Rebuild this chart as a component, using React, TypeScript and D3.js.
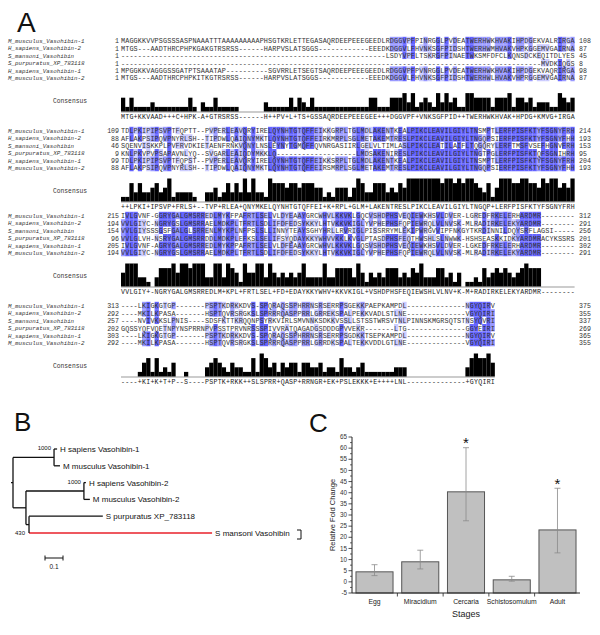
import React from 'react';
import * as d3 from 'd3';

// ---------------- Panel A data: alignment ----------------
const seqNames = [
  'M_musculus_Vasohibin-1',
  'H_sapiens_Vasohibin-2',
  'S_mansoni_Vasohibin',
  'S_purpuratus_XP_783118',
  'H_sapiens_Vasohibin-1',
  'M_musculus_Vasohibin-2',
];

const block1 = [
  'MAGGKKVVPS' + 'GSSSASPNAA' + 'ATTTAAAAAA' + 'AAAPHSGTKR' + 'LETTEGASAQ' + 'RDEEPEEEGE' + 'EDLRDGGVPF' + 'PINRGGLPVD' + 'EATWERHWKH' + 'VAKIHPDGEK' + 'VALRIRGA',
  'MTGS---AAD' + 'THRCPHPKGA' + 'KGTRSRSS--' + '----HARPVS' + 'LATSGGS---' + '---------E' + 'EEDKDGGVLF' + 'HVNKSGFPID' + 'SHTWERHWMH' + 'VAKVHPKGGE' + 'MVGAIRNA',
  '----------' + '----------' + '----------' + '----------' + '----------' + '----------' + '---LSDYVPF' + 'LTSKRGFPIN' + 'AETWKSMFDF' + 'CLKQNSDCKE' + 'QITDLYES',
  '----------' + '----------' + '----------' + '----------' + '----------' + '----------' + '----------' + '----------' + '----------' + '----------' + 'MVDKIQGS',
  'MPGGKKVAGG' + 'GSSGATPTSA' + 'AATAP-----' + '-----SGVRR' + 'LETSEGTSAQ' + 'RDEEPEEEGE' + 'EDLRDGGVPF' + 'PVNRGGLPVD' + 'EATWERHWKH' + 'VAKIHPDGEK' + 'VAQRIRGA',
  'MTGS---AAD' + 'THRCPHPKIT' + 'KGTRSRSS--' + '----HARPVS' + 'LATSGGS---' + '---------E' + 'EEDKDGGVLF' + 'HVNKSGFPID' + 'SHTWERHWLH' + 'VAKVHPRGGE' + 'MVGAIRNA',
];
const block2 = [
  'TDLPKIPIPS' + 'VPTFQPTT--' + 'PVPERLEAVQ' + 'RYIRELQYNH' + 'TGTQFFEIKK' + 'GRPLTGLMDL' + 'AKENTKEALP' + 'IKCLEAVILG' + 'IYLTNSMPTL' + 'ERFPISFKTY' + 'FSGNYFRH',
  'AFLAKPSIPQ' + 'VPNYRLSH--' + 'TIPDWLQAIQ' + 'NYMKTLQYNH' + 'TGTQFFEIRK' + 'MRPLSGLMET' + 'AKEMTRESLP' + 'IKCLEAVILG' + 'IYLTNGQPSI' + 'ERFPISFKTY' + 'FSGNYFHH',
  'SQENVISKKP' + 'LPVFRVDKIE' + 'TAENFRNKVQ' + 'NYLNSLEYNY' + 'TGMQFFQVNR' + 'GASIIRLGEL' + 'VLTIMLASLP' + 'IKCLEATILA' + 'IFLTQGQRYL' + 'ERFTMSFVSE' + 'FHGNVFRH',
  'KNLPKVPVPS' + 'APAVNLYQ--' + 'SVGARLEAIQ' + 'DYMKKLQ---' + '----------' + '------LMDS' + 'AKENIRESLP' + 'IKCLEAVILG' + 'IYLTNGTPGL' + 'ERFPISFKTQ' + 'FSGNIHRH',
  'TDLPKIPIPS' + 'VPTFQPST--' + 'PVPERLEAVQ' + 'RYIRELQYNH' + 'TGTQFFEIKK' + 'SRPLTGLMDL' + 'AKENTKEALP' + 'IKCLEAVILG' + 'IYLTNSMPTL' + 'ERFPISFKTY' + 'FSGNYFRH',
  'AFLAKPSIPQ' + 'VPNYRLSH--' + 'TIPDWLQAIQ' + 'NYMKTLQYNH' + 'TGTQFFEIRS' + 'MRPLSGLMET' + 'AKEMTRESLP' + 'IKCLEAVILG' + 'IYLTNGQPSI' + 'ERFPISFKTY' + 'FSGNYFHH',
];
const block3 = [
  'IVLGVNF-GG' + 'RYGALGMSRR' + 'EDLMYKFPAF' + 'RTLSELVLDY' + 'EAAYGRCWHV' + 'LKKVKLGQCV' + 'SHDPHSVEQI' + 'EWKHSVLDVE' + 'R-LGREDFRK' + 'ELERHARDMR' + '--------',
  'VVLGIYC-NG' + 'RYGSLGMSRR' + 'AELMDKPLTF' + 'RTLSDLIFDF' + 'EDSYKKYLHT' + 'VKKVKIGLYV' + 'PHEPHSFQPI' + 'EWRQLVLNVS' + 'K-MLRADIRK' + 'ELEKYARDMR' + '--------',
  'VVLGIYSSSG' + 'SFGALGLSRR' + 'ENLMYKPLNF' + 'PSLSLLINNY' + 'TEAYSGHYHR' + 'LLRVRIGLPI' + 'SSRRYMLEKI' + 'PWRGVVIPFN' + 'KGYTKRDINN' + 'ILDQYSRFLA' + 'GSI-----',
  'VVLGLVH-NS' + 'RYGALGMSRR' + 'DDLMDKPLEF' + 'KSLSELIFSY' + 'QDAYKKYWHV' + 'VKKLKVGLPT' + 'ASDPHSFEQT' + 'HWSHLSLNWW' + 'K-HSHSEASK' + 'KIDKYARDMR' + 'ACYKSSRS',
  'IVLGVNF-AG' + 'RYGALGMSRR' + 'EDLMYKPPAF' + 'RTLSELVLDF' + 'EAAYGRCWHV' + 'LKKVKLGQSV' + 'SHDPHSVEQI' + 'EWKHSVLDVE' + 'R-LGKEDFRK' + 'ELERHARDMR' + '--------',
  'VVLGIYC-NG' + 'RYGSLGMSRR' + 'AELMDKPLTF' + 'RTLSDLIFDF' + 'EDSYKKYLHT' + 'VKKVKIGLYV' + 'PHEPHSFQPI' + 'EWRQLVLNVS' + 'K-MLRADIRK' + 'ELEKYARDMR' + '--------',
];
const block4 = [
  '----LKIGKG' + 'TGP-------' + 'PSPTKDRKKD' + 'VS-SPQRAQS' + 'SPHRRNSRSE' + 'RRPSGEKKPA' + 'EPKAMPDL--' + '----------' + '--NGYQIRV',
  '----MKILKP' + 'ASA-------' + 'HSPTQVRSRG' + 'KSLSPRRRQA' + 'SPPRRLGRRE' + 'KSPALPEKKV' + 'ADLSTLNE--' + '----------' + '--VGYQIRI',
  '----NVIVKK' + 'SLPNIS----' + 'SDSFKTTKRQ' + 'QNPSYRKVIR' + 'LSMVNNKSDK' + 'KVSSLLSTSS' + 'TWRSVTNLPI' + 'NNSKMGRSQT' + 'STNSYQVRI',
  'GQSSYQFVQE' + 'TNPYNSPRRN' + 'PVPSSTPRVN' + 'RSSSPIVVRA' + 'TQAGADGSDD' + 'DGPVVEKR--' + '-----LTG--' + '----------' + '--GGYEIRI',
  '----LKIGKG' + 'TGP-------' + 'PSPTKDRKKD' + 'VS-SPQRAQS' + 'SPHRRNSRSE' + 'RRPSGDKKTS' + 'EPKAMPDL--' + '----------' + '--NGYQIRV',
  '----MKILKP' + 'ASA-------' + 'HSPTQVRSRG' + 'KSLSPRRRQA' + 'SPPRRLGRRD' + 'KSPALTEKKV' + 'DDLGTLNE--' + '----------' + '--VGYQIRI',
];
const blockStartNumbers = [
  [1, 1, 1, 1, 1, 1],
  [109, 88, 46, 9, 99, 88],
  [215, 194, 154, 96, 205, 194],
  [313, 292, 257, 202, 303, 292],
];
const consensusLines = [
  'MTG+KKVAAD' + '+++C+HPK-A' + '+GTRSRSS--' + '----H++PV+' + 'L+TS+GSSAQ' + 'RDEEPEEEGE' + 'E+++DGGVPF' + '+VNKSGFPID' + '++TWERHWKH' + 'VAK+HPDG+K' + 'MVG+IRGA',
  '++LPKI+IPS' + 'VP+FRLS+--' + 'TVP+RLEA+Q' + 'NYMKELQYNH' + 'TGTQFFEI+K' + '+RPL+GLM+L' + 'AKENTRESLP' + 'IKCLEAVILG' + 'IYLTNGQP+L' + 'ERFPISFKTY' + 'FSGNYFRH',
  'VVLGIY+-NG' + 'RYGALGMSRR' + 'EDLM+KPL+F' + 'RTLSEL+FD+' + 'EDAYKKYWHV' + '+KKVKIGL+V' + 'SHDPHSFEQI' + 'EWSHLVLNV+' + 'K-M+RADIRK' + 'ELEKYARDMR' + '--------',
  '----+KI+K+' + 'T+P--S----' + 'PSPTK+RKK+' + '+SLSPRR+QA' + 'SP+RRNGR+E' + 'K+PSLEKKK+' + 'E++++LNL--' + '----------' + '--+GYQIRI',
];

// ---------------- Panel B data: tree ----------------
type TNode = { name?: string; len: number; boot?: string; red?: boolean; children?: TNode[] };
const treeData: TNode = {
  len: 0,
  children: [
    {
      len: 0.228, boot: '1000',
      children: [
        { name: 'H sapiens Vasohibin-1', len: 0.017 },
        { name: 'M musculus Vasohibin-1', len: 0.033 },
      ],
    },
    {
      len: 0.072,
      children: [
        {
          len: 0.322, boot: '1000',
          children: [
            { name: 'H sapiens Vasohibin-2', len: 0.011 },
            { name: 'M musculus Vasohibin-2', len: 0.033 },
          ],
        },
        {
          len: 0.017, boot: '430',
          children: [
            { name: 'S purpuratus XP_783118', len: 0.41 },
            { name: 'S mansoni Vasohibin', len: 1.017, red: true },
          ],
        },
      ],
    },
  ],
};
const scaleBarValue = 0.1;

// ---------------- Panel C data: bar chart ----------------
const stages = ['Egg', 'Miracidium', 'Cercaria', 'Schistosomulum', 'Adult'];
const foldChange = [4.5, 9.0, 40.4, 0.9, 23.3];
const errHigh = [7.7, 14.2, 60.2, 2.5, 42.0];
const errLow = [2.8, 5.8, 27.4, 0.3, 13.0];
const significant = [false, false, true, false, true];
const yTicks = [-5, 0, 5, 10, 15, 20, 25, 30, 35, 40, 45, 50, 55, 60, 65];

// ---------------- layout ----------------
const CW = 4.2;
const SEQ_X = 121;
const ROW_H = 7.4;
const BLOCK_TOP = [41, 131, 216, 306];
const MONO = "'Liberation Mono', 'DejaVu Sans Mono', monospace";
const SANS = "'Liberation Sans', Arial, sans-serif";

function colorFor(frac: number) {
  if (frac > 0.8) return '#6464ff';
  if (frac > 0.6) return '#9999ff';
  if (frac > 0.4) return '#ccccff';
  return null;
}

function AlignmentBlock({ rows, bi }: { rows: string[]; bi: number }) {
  const ncol = rows[0].length;
  const top = BLOCK_TOP[bi];
  const x = d3.scaleLinear().domain([0, ncol]).range([SEQ_X, SEQ_X + ncol * CW]);
  const yRow = (i: number) => top + i * ROW_H;
  const cols = d3.range(ncol).map((c) => {
    const res = rows.map((r) => r[c]);
    const counts = d3.rollup(res.filter((r) => r !== '-'), (v) => v.length, (d) => d);
    const nonGap = res.filter((r) => r !== '-').length;
    const maxCount = counts.size ? d3.max(Array.from(counts.values()))! : 0;
    return { counts, nonGap, maxCount };
  });
  const histBase = top + 70.5;
  const histH = 23;
  const hScale = d3.scaleLinear().domain([1, 6]).range([0, histH]).clamp(true);
  const cells: JSX.Element[] = [];
  rows.forEach((r, i) => {
    for (let c = 0; c < ncol; c++) {
      const ch = r[c];
      if (ch === '-') continue;
      const info = cols[c];
      if (info.nonGap < 5) continue;
      if (info.counts.get(ch) !== info.maxCount) continue;
      const col = colorFor(info.maxCount / 6);
      if (!col) continue;
      cells.push(
        <rect key={`c${i}-${c}`} x={x(c)} y={yRow(i) - ROW_H / 2 - 0.5} width={CW + 0.05} height={ROW_H + 0.05} fill={col} />
      );
    }
  });
  const ends = rows.map((r, i) => blockStartNumbers[bi][i] + r.replace(/-/g, '').length - 1);
  return (
    <g>
      {cells}
      {rows.map((r, i) => (
        <g key={i}>
          <text x={8} y={yRow(i) + 2} fontFamily={MONO} fontStyle="italic" fontSize={5.8} fill="#333">
            {seqNames[i]}
          </text>
          <text x={119} y={yRow(i) + 2.3} fontFamily={MONO} fontSize={6.6} fill="#333" textAnchor="end">
            {blockStartNumbers[bi][i]}
          </text>
          <text x={SEQ_X} y={yRow(i) + 2.3} fontFamily={MONO} fontSize={6.8} fill="#333" textLength={ncol * CW} lengthAdjust="spacing">
            {r}
          </text>
          <text x={579} y={yRow(i) + 2.3} fontFamily={MONO} fontSize={6.6} fill="#333">
            {ends[i]}
          </text>
        </g>
      ))}
      <text x={53} y={histBase - 9} fontFamily={MONO} fontSize={6.3} fill="#333">Consensus</text>
      <line x1={x(0)} x2={x(ncol)} y1={histBase + 0.5} y2={histBase + 0.5} stroke="#999" strokeWidth={1} />
      {cols.map((info, c) => {
        const h = hScale(Math.max(1, info.maxCount));
        if (h <= 0) return null;
        return <rect key={`h${c}`} x={x(c)} y={histBase - h} width={CW + 0.05} height={h} fill="#000" />;
      })}
      <text x={SEQ_X} y={histBase + 7} fontFamily={MONO} fontSize={6.6} fill="#222" textLength={ncol * CW} lengthAdjust="spacing">
        {consensusLines[bi]}
      </text>
    </g>
  );
}

function Tree() {
  const ox = 13;
  const px = d3.scaleLinear().domain([0, 1]).range([0, 180]);
  const leafY = d3.scaleLinear().domain([0, 5]).range([449, 533]);
  let leafIdx = 0;
  const lines: JSX.Element[] = [];
  const texts: JSX.Element[] = [];
  let k = 0;
  function layout(n: TNode, parentX: number): { x: number; y: number } {
    const nx = parentX + px(n.len);
    if (!n.children) {
      const y = leafY(leafIdx++);
      texts.push(
        <text key={`t${k++}`} x={nx + 3} y={y + 3} fontFamily={SANS} fontSize={8} fill="#111">{n.name}</text>
      );
      lines.push(<line key={`l${k++}`} x1={parentX} x2={nx} y1={y} y2={y} stroke={n.red ? '#e8212a' : '#111'} strokeWidth={1.3} />);
      return { x: nx, y };
    }
    const kids = n.children.map((c) => layout(c, nx));
    const y = (kids[0].y + kids[kids.length - 1].y) / 2;
    lines.push(<line key={`v${k++}`} x1={nx} x2={nx} y1={kids[0].y} y2={kids[kids.length - 1].y} stroke="#111" strokeWidth={1.3} />);
    if (n.len > 0) lines.push(<line key={`h${k++}`} x1={parentX} x2={nx} y1={y} y2={y} stroke="#111" strokeWidth={1.3} />);
    if (n.boot) {
      const by = n.boot === '430' ? kids[kids.length - 1].y + 2 : kids[0].y + 1;
      const bx = n.boot === '430' ? nx - 4 : nx - 3;
      texts.push(
        <text key={`b${k++}`} x={bx} y={by} fontFamily={SANS} fontSize={6} fill="#111" textAnchor="end">{n.boot}</text>
      );
    }
    return { x: nx, y };
  }
  const root = layout(treeData, ox);
  const sb0 = 45;
  const sb1 = sb0 + px(scaleBarValue);
  return (
    <g>
      {lines}
      <line x1={ox - 2} x2={ox} y1={root.y} y2={root.y} stroke="#111" strokeWidth={1.3} />
      {texts}
      <path d="M297,530 H301 V539 H297" fill="none" stroke="#111" strokeWidth={1} />
      <line x1={sb0} x2={sb1} y1={558} y2={558} stroke="#111" strokeWidth={1} />
      <line x1={sb0} x2={sb0} y1={555.5} y2={560.5} stroke="#111" strokeWidth={1} />
      <line x1={sb1} x2={sb1} y1={555.5} y2={560.5} stroke="#111" strokeWidth={1} />
      <text x={(sb0 + sb1) / 2} y={569} fontFamily={SANS} fontSize={6.5} textAnchor="middle" fill="#111">{scaleBarValue}</text>
    </g>
  );
}

function BarChart() {
  const y = d3.scaleLinear().domain([-5, 65]).range([593, 437]);
  const x = d3.scaleBand<string>().domain(stages).range([352, 580]).paddingInner(0.19).paddingOuter(0.087);
  const minorTicks = d3.range(-2.5, 65, 5);
  const boundaries = stages.slice(1).map((s) => x(s)! - (x.step() - x.bandwidth()) / 2);
  return (
    <g fontFamily={SANS}>
      {stages.map((s, i) => (
        <rect key={s} x={x(s)} y={y(foldChange[i])} width={x.bandwidth()} height={y(-5) - y(foldChange[i])} fill="#c0c0c0" stroke="#555" strokeWidth={1} />
      ))}
      {stages.map((s, i) => {
        const cx = x(s)! + x.bandwidth() / 2;
        return (
          <g key={`e${s}`} stroke="#8a8a8a" strokeWidth={0.8}>
            <line x1={cx} x2={cx} y1={y(errLow[i])} y2={y(errHigh[i])} />
            <line x1={cx - 3} x2={cx + 3} y1={y(errLow[i])} y2={y(errLow[i])} />
            <line x1={cx - 3} x2={cx + 3} y1={y(errHigh[i])} y2={y(errHigh[i])} />
          </g>
        );
      })}
      {stages.map((s, i) =>
        significant[i] ? (
          <text key={`s${s}`} x={x(s)! + x.bandwidth() / 2} y={y(errHigh[i]) + 0.5} fontSize={15} textAnchor="middle" fill="#111">*</text>
        ) : null
      )}
      <line x1={352} x2={352} y1={y(65)} y2={y(-5)} stroke="#222" strokeWidth={1} />
      <line x1={352} x2={580} y1={y(-5)} y2={y(-5)} stroke="#222" strokeWidth={1} />
      {yTicks.map((t) => (
        <g key={`yt${t}`}>
          <line x1={348.5} x2={352} y1={y(t)} y2={y(t)} stroke="#222" strokeWidth={0.8} />
          <text x={347} y={y(t) + 2.2} fontSize={6.3} textAnchor="end" fill="#333">{t}</text>
        </g>
      ))}
      {minorTicks.map((t) => (
        <line key={`ym${t}`} x1={350} x2={352} y1={y(t)} y2={y(t)} stroke="#222" strokeWidth={0.7} />
      ))}
      {boundaries.map((b, i) => (
        <line key={`xb${i}`} x1={b} x2={b} y1={y(-5)} y2={y(-5) + 3.5} stroke="#222" strokeWidth={0.8} />
      ))}
      {stages.map((s) => (
        <text key={`xl${s}`} x={x(s)! + x.bandwidth() / 2} y={604} fontSize={6.8} textAnchor="middle" fill="#222">{s}</text>
      ))}
      <text x={466} y={617} fontSize={9} textAnchor="middle" fill="#222">Stages</text>
      <text transform={`translate(335,${(y(65) + y(-5)) / 2}) rotate(-90)`} fontSize={7.5} textAnchor="middle" fill="#222">Relative Fold Change</text>
    </g>
  );
}

export default function App() {
  const blocks = [block1, block2, block3, block4];
  return (
    <svg width={600} height={635} viewBox="0 0 600 635" style={{ position: 'absolute', left: 0, top: 0, background: '#fff' }}>
      <rect width={600} height={635} fill="#fff" />
      <text x={17} y={32} fontFamily={SANS} fontSize={28} fill="#111">A</text>
      <text x={14} y={431} fontFamily={SANS} fontSize={26} fill="#111">B</text>
      <text x={309} y={432} fontFamily={SANS} fontSize={26} fill="#111">C</text>
      {blocks.map((b, i) => (
        <AlignmentBlock key={i} rows={b} bi={i} />
      ))}
      <Tree />
      <BarChart />
    </svg>
  );
}
